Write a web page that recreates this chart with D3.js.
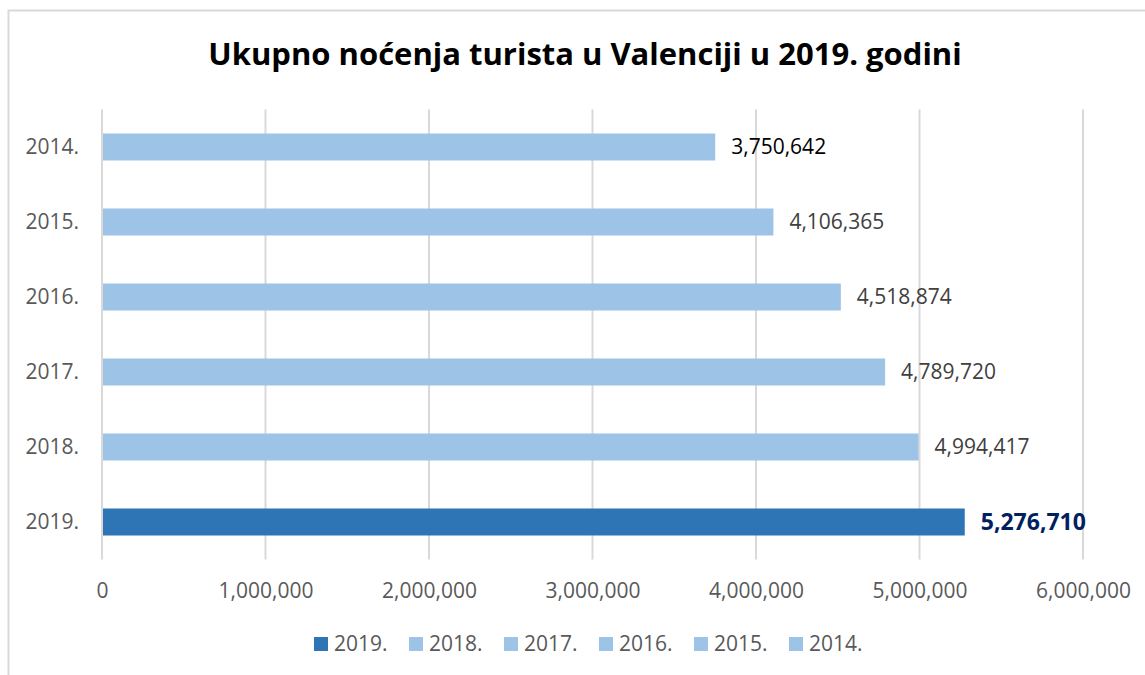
<!DOCTYPE html>
<html>
<head>
<meta charset="utf-8">
<script src="https://cdn.jsdelivr.net/npm/d3@7"></script>
<style>
  body { margin: 0; background: #fff; }
  svg text { font-family: "Open Sans", sans-serif; }
</style>
</head>
<body>
<div id="chart"></div>
<script>
const years = ["2014.", "2015.", "2016.", "2017.", "2018.", "2019."];
const nights = [3750642, 4106365, 4518874, 4789720, 4994417, 5276710];
const legendOrder = ["2019.", "2018.", "2017.", "2016.", "2015.", "2014."];
const xTicks = [0, 1000000, 2000000, 3000000, 4000000, 5000000, 6000000];

const width = 1145, height = 675;
const margin = { top: 109.5, right: 62, bottom: 115.5, left: 102 };
const innerWidth = width - margin.left - margin.right;
const innerHeight = height - margin.top - margin.bottom;

const data = years.map((y, i) => ({ year: y, value: nights[i] }));
const colorOf = d => d.year === "2019." ? "#2E75B6" : "#9DC3E6";

const svg = d3.select("#chart").append("svg")
    .attr("width", width).attr("height", height);

// chart border (only top and left visible in the frame)
svg.append("rect")
    .attr("x", 8.5).attr("y", 10.5)
    .attr("width", width + 20).attr("height", height + 20)
    .attr("fill", "#fff").attr("stroke", "#D9D9D9").attr("stroke-width", 2);

svg.append("text")
    .attr("x", 585).attr("y", 65)
    .attr("text-anchor", "middle")
    .style("font-size", "31px").style("font-weight", "bold").style("fill", "#000")
    .text("Ukupno noćenja turista u Valenciji u 2019. godini");

const g = svg.append("g").attr("transform", `translate(${margin.left},${margin.top})`);

const x = d3.scaleLinear().domain([0, 6000000]).range([0, innerWidth]);
const y = d3.scaleBand().domain(years).range([0, innerHeight]).paddingInner(0.64).paddingOuter(0.32);

// vertical gridlines
g.selectAll(".grid").data(xTicks).enter().append("line")
    .attr("x1", d => x(d)).attr("x2", d => x(d))
    .attr("y1", 0).attr("y2", innerHeight)
    .attr("stroke", "#D9D9D9").attr("stroke-width", 2);

// bars
g.selectAll(".bar").data(data).enter().append("rect")
    .attr("x", x(0) + 1).attr("y", d => y(d.year))
    .attr("width", d => x(d.value) - x(0) - 1).attr("height", y.bandwidth())
    .attr("fill", colorOf);

// value labels
g.selectAll(".val").data(data).enter().append("text")
    .attr("x", d => x(d.value) + 16)
    .attr("y", d => y(d.year) + y.bandwidth() / 2)
    .attr("dy", "0.35em")
    .style("font-size", d => d.year === "2019." ? "23px" : "21px")
    .style("font-weight", d => d.year === "2019." ? "bold" : "normal")
    .style("fill", d => d.year === "2019." ? "#002060" : (d.year === "2014." ? "#000" : "#404040"))
    .text(d => d3.format(",")(d.value));

// category labels
g.selectAll(".cat").data(years).enter().append("text")
    .attr("x", -23).attr("y", d => y(d) + y.bandwidth() / 2)
    .attr("dy", "0.35em").attr("text-anchor", "end")
    .style("font-size", "21px").style("fill", "#595959")
    .text(d => d);

// x axis tick labels
const xAxis = g.append("g").attr("transform", `translate(0,${innerHeight})`)
    .call(d3.axisBottom(x).tickValues(xTicks).tickFormat(d3.format(",")).tickSize(0).tickPadding(24));
xAxis.select(".domain").remove();
xAxis.selectAll("text").style("font-size", "21px").style("fill", "#595959")
    .style("font-family", "'Open Sans', sans-serif");

// legend
const legend = svg.append("g").attr("transform", "translate(314,637)");
const item = legend.selectAll(".li").data(legendOrder).enter().append("g")
    .attr("transform", (d, i) => `translate(${i * 95},0)`);
item.append("rect").attr("width", 14).attr("height", 14)
    .attr("fill", d => d === "2019." ? "#2E75B6" : "#9DC3E6");
item.append("text").attr("x", 20).attr("y", 7).attr("dy", "0.35em")
    .style("font-size", "21px").style("fill", "#595959")
    .text(d => d);
</script>
</body>
</html>
